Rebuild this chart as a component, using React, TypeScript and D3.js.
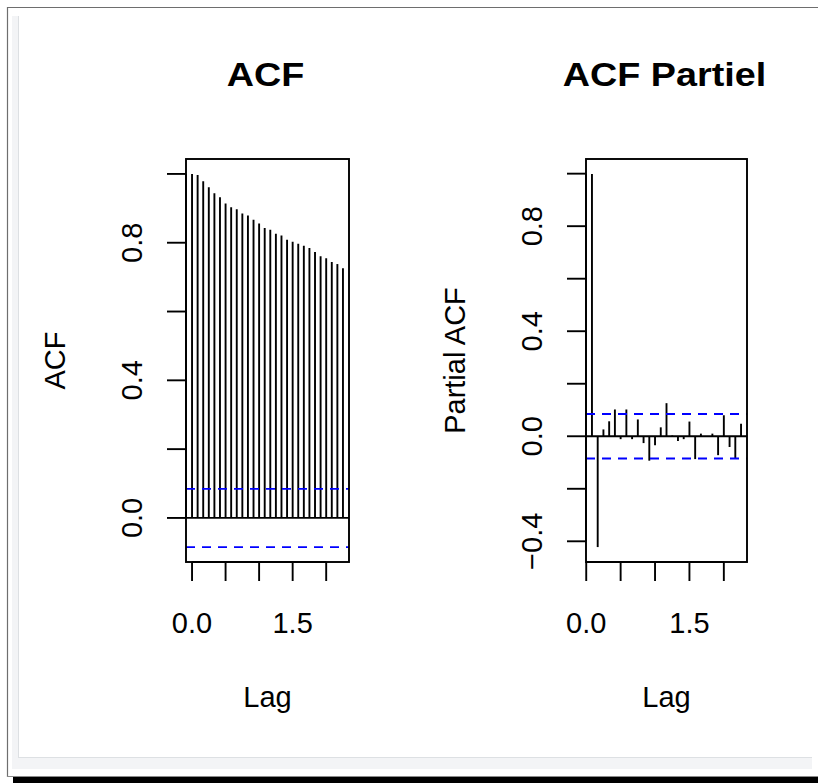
import React from "react";
import * as d3 from "d3";

// Series sampled monthly: lags are expressed in years (lag / frequency)
const FREQUENCY = 12;
const CONF_LIMIT = 0.0847; // 1.96 / sqrt(n)

// Autocorrelation, lags 0..27
const ACF_VALUES = [
  1.0, 0.997, 0.979, 0.961, 0.944, 0.932, 0.914, 0.903, 0.897, 0.885, 0.879,
  0.867, 0.856, 0.843, 0.838, 0.826, 0.821, 0.809, 0.803, 0.797, 0.791, 0.785,
  0.773, 0.761, 0.755, 0.744, 0.738, 0.726,
];

// Partial autocorrelation, lags 1..27
const PACF_VALUES = [
  0.999, -0.422, 0.026, 0.057, 0.102, -0.011, 0.102, -0.011, 0.064, -0.026,
  -0.093, -0.034, 0.034, 0.126, 0.003, -0.018, -0.011, 0.056, -0.087, 0.01,
  -0.002, 0.01, -0.072, 0.08, -0.041, -0.083, 0.048,
];

const X_TICKS = [0, 0.5, 1, 1.5, 2];
const X_TICK_LABELS = [0, 1.5];
const ACF_Y_TICKS = [0, 0.2, 0.4, 0.6, 0.8, 1.0];
const ACF_Y_TICK_LABELS = [0, 0.4, 0.8];
const PACF_Y_TICKS = [-0.4, -0.2, 0, 0.2, 0.4, 0.6, 0.8, 1.0];
const PACF_Y_TICK_LABELS = [-0.4, 0, 0.4, 0.8];

const FONT = "'Liberation Sans', Arial, sans-serif";
const TICK_FONT = 29;
const TITLE_FONT = 34;

// R-style 4% axis extension
function extend([a, b]: [number, number]): [number, number] {
  const d = (b - a) * 0.04;
  return [a - d, b + d];
}

type PanelProps = {
  title: string;
  ylab: string;
  lags: number[];
  values: number[];
  yTicks: number[];
  yTickLabels: number[];
  left: number;
  right: number;
  top: number;
  bottom: number;
};

function Panel({ title, ylab, lags, values, yTicks, yTickLabels, left, right, top, bottom }: PanelProps) {
  const xDomain = extend(d3.extent(lags) as [number, number]);
  const yDomain = extend([
    Math.min(d3.min(values)!, -CONF_LIMIT),
    Math.max(d3.max(values)!, CONF_LIMIT),
  ]);
  const x = d3.scaleLinear().domain(xDomain).range([left, right]);
  const y = d3.scaleLinear().domain(yDomain).range([bottom, top]);
  const cx = (left + right) / 2;
  const cy = (top + bottom) / 2;
  const fmt = d3.format(".1f");

  return (
    <g>
      <text
        transform={`translate(${cx - 2},86) scale(1.11,1)`}
        textAnchor="middle"
        fontFamily={FONT}
        fontWeight="bold"
        fontSize={TITLE_FONT}
      >
        {title}
      </text>

      {/* lag spikes */}
      {values.map((v, i) => (
        <line key={i} x1={x(lags[i])} x2={x(lags[i])} y1={y(0)} y2={y(v)} stroke="#000" strokeWidth={1.9} />
      ))}

      {/* zero line */}
      <line x1={left} x2={right} y1={y(0)} y2={y(0)} stroke="#000" strokeWidth={1.8} />

      {/* confidence bounds */}
      {[CONF_LIMIT, -CONF_LIMIT].map((c) => (
        <line key={c} x1={left} x2={right} y1={y(c)} y2={y(c)} stroke="#0000ff" strokeWidth={1.8} strokeDasharray="9,7" />
      ))}

      <rect x={left} y={top} width={right - left} height={bottom - top} fill="none" stroke="#000" strokeWidth={1.9} />

      {/* x axis */}
      <line x1={x(X_TICKS[0])} x2={x(X_TICKS[X_TICKS.length - 1])} y1={bottom} y2={bottom} stroke="#000" strokeWidth={1.9} />
      {X_TICKS.map((t) => (
        <line key={t} x1={x(t)} x2={x(t)} y1={bottom} y2={bottom + 19} stroke="#000" strokeWidth={1.9} />
      ))}
      {X_TICK_LABELS.map((t) => (
        <text key={t} x={x(t)} y={633} textAnchor="middle" fontFamily={FONT} fontSize={TICK_FONT}>
          {fmt(t)}
        </text>
      ))}
      <text x={cx} y={707} textAnchor="middle" fontFamily={FONT} fontSize={TICK_FONT}>
        Lag
      </text>

      {/* y axis */}
      <line x1={left} x2={left} y1={y(yTicks[0])} y2={y(yTicks[yTicks.length - 1])} stroke="#000" strokeWidth={1.9} />
      {yTicks.map((t) => (
        <line key={t} x1={left - 19} x2={left} y1={y(t)} y2={y(t)} stroke="#000" strokeWidth={1.9} />
      ))}
      {yTickLabels.map((t) => (
        <text
          key={t}
          transform={`translate(${left - 44},${y(t)}) rotate(-90)`}
          textAnchor="middle"
          fontFamily={FONT}
          fontSize={TICK_FONT}
        >
          {fmt(t)}
        </text>
      ))}
      <text
        transform={`translate(${left - 121},${cy}) rotate(-90)`}
        textAnchor="middle"
        fontFamily={FONT}
        fontSize={TICK_FONT}
      >
        {ylab}
      </text>
    </g>
  );
}

export default function App() {
  const acfLags = ACF_VALUES.map((_, i) => i / FREQUENCY);
  const pacfLags = PACF_VALUES.map((_, i) => (i + 1) / FREQUENCY);

  return (
    <svg
      width={818}
      height={783}
      style={{ position: "absolute", left: 0, top: 0, display: "block", background: "#fff" }}
    >
      {/* window frame */}
      <rect x={0} y={0} width={818} height={783} fill="#fff" />
      <line x1={7} x2={818} y1={7.5} y2={7.5} stroke="#6e6e6e" strokeWidth={1.2} />
      <line x1={7.5} x2={7.5} y1={7} y2={777} stroke="#6e6e6e" strokeWidth={1.2} />
      <line x1={7} x2={818} y1={776.5} y2={776.5} stroke="#8a8a8a" strokeWidth={1} />
      <rect x={13} y={777} width={805} height={6} fill="#000" />
      <rect x={12} y={16} width={7} height={753} fill="#f3f4f6" />
      <rect x={12} y={757} width={800} height={12} fill="#f3f4f6" />
      <line x1={18.5} x2={18.5} y1={16} y2={757} stroke="#dde0e3" strokeWidth={1} />
      <line x1={18} x2={812} y1={757.5} y2={757.5} stroke="#dde0e3" strokeWidth={1} />

      <Panel
        title="ACF"
        ylab="ACF"
        lags={acfLags}
        values={ACF_VALUES}
        yTicks={ACF_Y_TICKS}
        yTickLabels={ACF_Y_TICK_LABELS}
        left={186}
        right={349}
        top={159}
        bottom={562}
      />
      <Panel
        title="ACF Partiel"
        ylab="Partial ACF"
        lags={pacfLags}
        values={PACF_VALUES}
        yTicks={PACF_Y_TICKS}
        yTickLabels={PACF_Y_TICK_LABELS}
        left={586}
        right={747}
        top={159}
        bottom={562}
      />
    </svg>
  );
}
